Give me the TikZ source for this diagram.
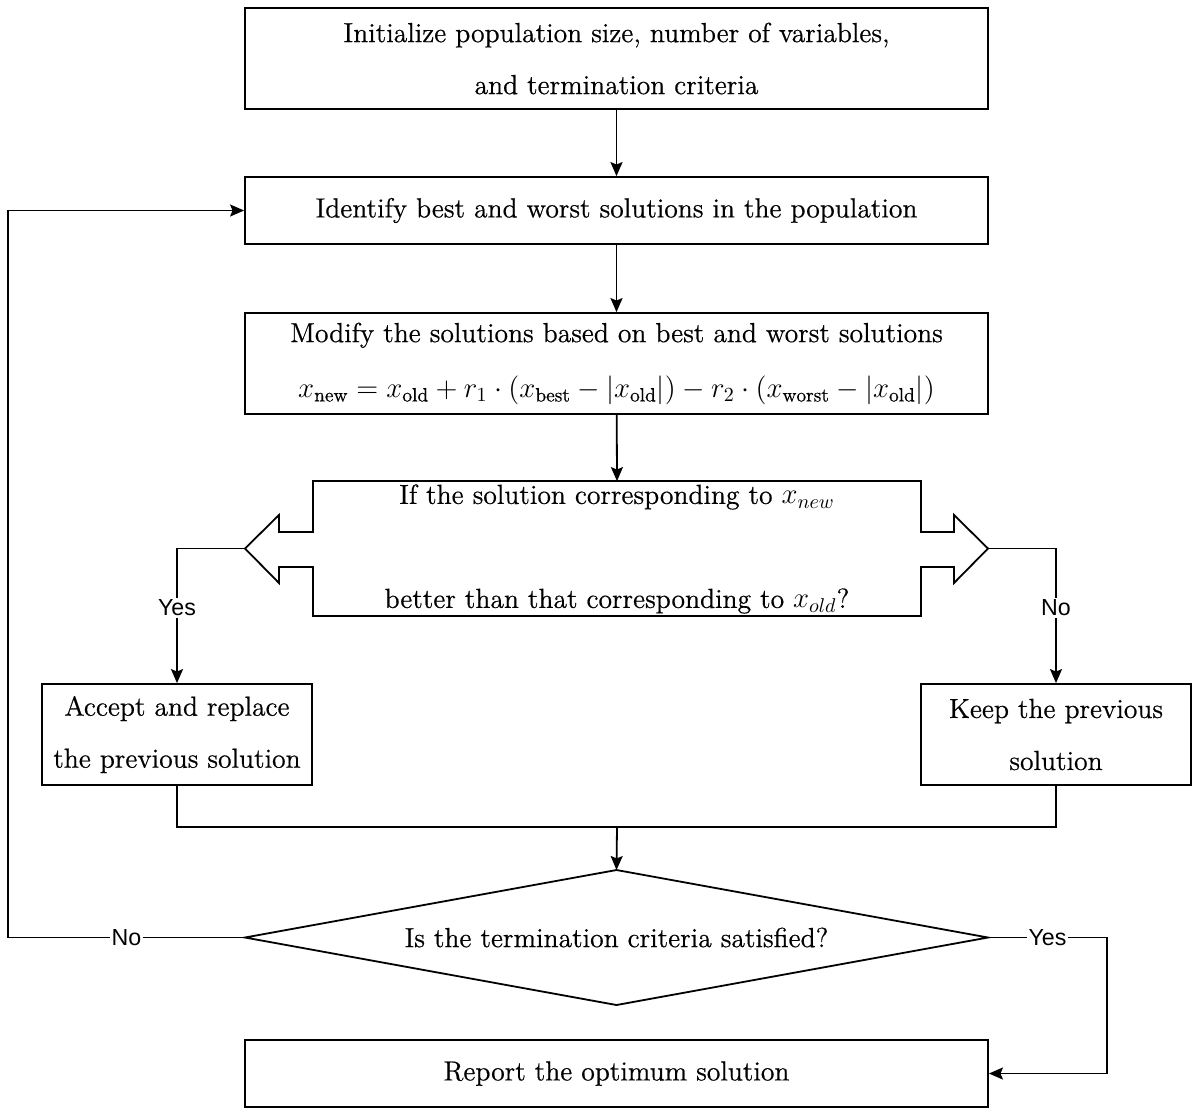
\documentclass[tikz,border=0pt]{standalone}
\usepackage{fontspec}
\setmainfont{Latin Modern Roman}[FakeBold=0.6]
\newfontfamily\labelfont{Liberation Sans}
\usetikzlibrary{arrows.meta}
\begin{document}
\begin{tikzpicture}[x=0.5pt,y=-0.5pt,
  mainfont/.style={font=\fontsize{13.8}{26}\selectfont},
  box/.style={draw,line width=0.9pt,align=center,inner sep=0pt,mainfont},
  arr/.style={line width=0.9pt,-{Stealth[length=7pt,width=6pt,inset=1.2pt]}},
  conn/.style={line width=0.9pt},
  lbl/.style={fill=white,inner sep=1pt,font=\labelfont\fontsize{11.6}{13}\selectfont}]
\useasboundingbox (0,0) rectangle (1200,1116);

\node[box,minimum width=371.5pt,minimum height=50.5pt] (b1) at (616.5,58.5)
  {Initialize population size, number of variables,\\ and termination criteria};
\node[box,minimum width=371.5pt,minimum height=33.5pt] (b2) at (616.5,210.5)
  {Identify best and worst solutions in the population};
\node[box,minimum width=371.5pt,minimum height=50.5pt,font=\fontsize{13.8}{27.5}\selectfont] (b3) at (616.5,363.5)
  {Modify the solutions based on best and worst solutions\\
   $x_{\mathrm{new}} = x_{\mathrm{old}} + r_1\cdot\bigl(x_{\mathrm{best}} - \bigl|x_{\mathrm{old}}\bigr|\bigr) - r_2\cdot\bigl(x_{\mathrm{worst}} - \bigl|x_{\mathrm{old}}\bigr|\bigr)$};

% decision shape with side arrows
\draw[line width=0.9pt] (313,481) -- (921,481) -- (921,532) -- (954,532) -- (954,515) -- (988,548.5)
  -- (954,583) -- (954,567) -- (921,567) -- (921,616) -- (313,616) -- (313,567) -- (279,567)
  -- (279,583) -- (245,548.5) -- (279,515) -- (279,532) -- (313,532) -- cycle;
\node[align=center,inner sep=0pt,minimum width=304pt,minimum height=67.5pt,font=\fontsize{13.8}{52}\selectfont] (dec) at (617,549)
  {If the solution corresponding to $x_{new}$\\ better than that corresponding to $x_{old}$?};
\coordinate (dl) at (245,548.5);
\coordinate (dr) at (988,548.5);

\node[box,minimum width=135pt,minimum height=50.5pt] (acc) at (177,734.5)
  {Accept and replace\\ the previous solution};
\node[box,minimum width=135pt,minimum height=50.5pt] (keep) at (1056,734.5)
  {Keep the previous\\ solution};

% termination diamond
\coordinate (dtop) at (616.5,870);
\coordinate (dleft) at (245,937.5);
\coordinate (dright) at (988,937.5);
\coordinate (dbot) at (616.5,1005);
\draw[line width=0.9pt] (dtop) -- (dright) -- (dbot) -- (dleft) -- cycle;
\node[inner sep=0pt,mainfont] (dia) at (616.5,937.5) {Is the termination criteria satisfied?};

\node[box,minimum width=371.5pt,minimum height=33.5pt] (rep) at (616.5,1073.5)
  {Report the optimum solution};

\coordinate (m) at (617,827);
\coordinate (lp) at (8,937.5);
\coordinate (rp) at (1107,937.5);

\draw[arr] (b1) -- (b2);
\draw[arr] (b2) -- (b3);
\draw[arr] (b3) -- (dec.north);
\draw[arr] (dl) -| node[lbl,pos=0.72]{Yes} (acc.north);
\draw[arr] (dr) -| node[lbl,pos=0.72]{No} (keep.north);
\draw[conn] (acc.south) |- (m) -| (keep.south);
\draw[arr] (m) -- (dtop);
\draw[arr] (dleft) -- node[lbl]{No} (lp) |- (b2.west);
\draw[arr] (dright) -- node[lbl]{Yes} (rp) |- (rep.east);
\end{tikzpicture}
\end{document}
